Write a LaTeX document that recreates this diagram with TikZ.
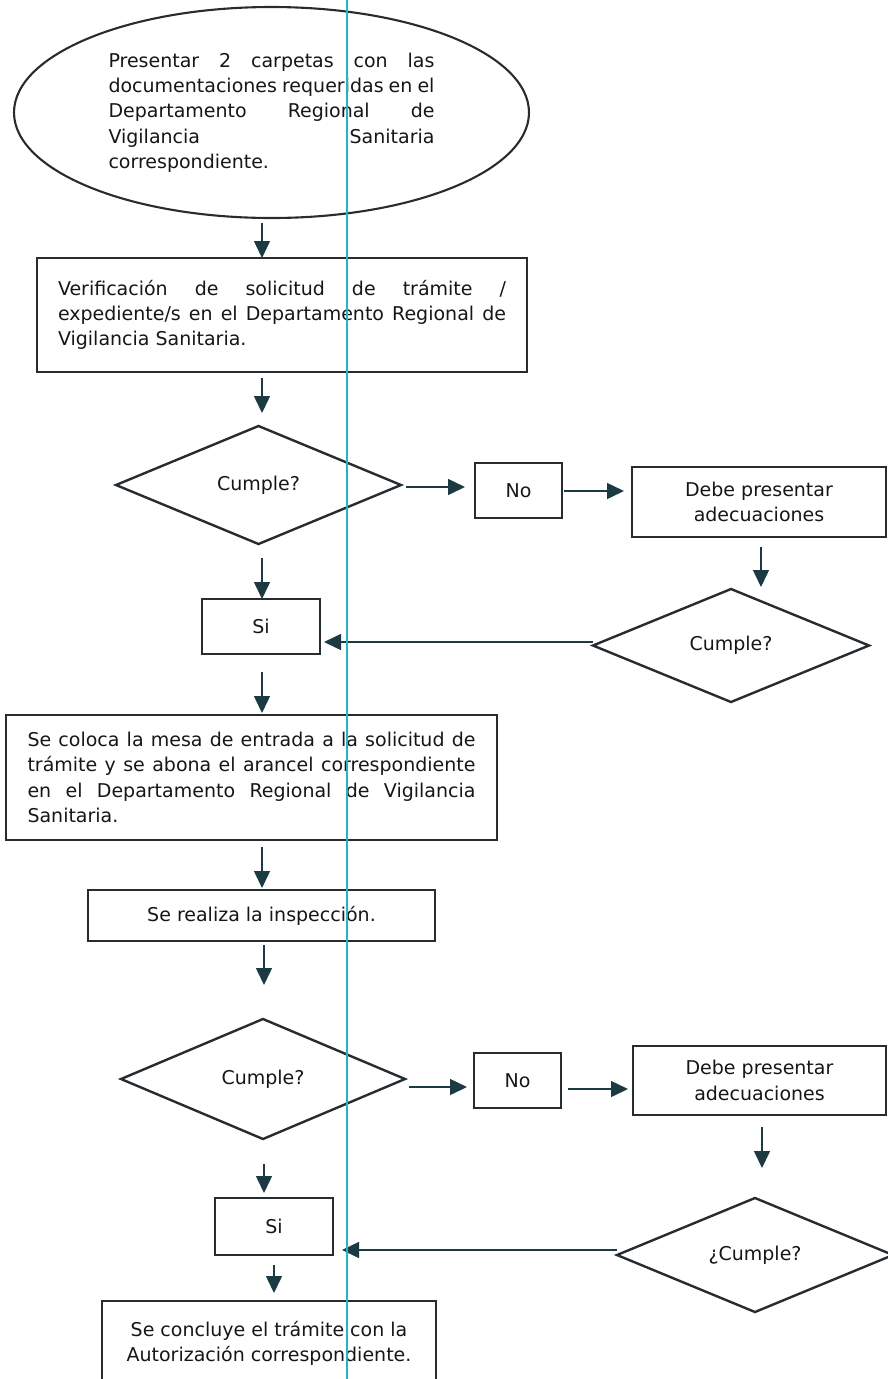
\documentclass[tikz,border=0pt]{standalone}
\usepackage{fontspec}
\setmainfont{DejaVu Sans}
\usetikzlibrary{shapes.geometric,arrows.meta}
\definecolor{ln}{HTML}{262C30}
\definecolor{ac}{HTML}{1C3A42}
\definecolor{tx}{HTML}{161616}
\definecolor{guide}{HTML}{22B5C2}
\newcommand\myjl[2]{\hbox to #1{#2}}
\newcommand\mylast[2]{\hbox to #1{#2\hfil}}
\begin{document}
\begin{tikzpicture}[x=1pt,y=-1pt,
  every node/.style={font=\fontsize{19}{25.3}\selectfont, text=tx, inner sep=0pt, outer sep=0pt},
  box/.style={draw=ln, line width=2.7pt, rectangle},
  dia/.style={draw=ln, line width=2.4pt, diamond},
  oval/.style={draw=ln, line width=2.1pt, ellipse},
  arr/.style={draw=ac, line width=1.5pt, -{Triangle[length=17pt,width=16pt]}},
  guideline/.style={draw=guide, line width=1.3pt}]
\useasboundingbox (0,0) rectangle (888,1379);

% column / row helpers
\coordinate (cA) at (262,0);
\coordinate (cB) at (264,0);
\coordinate (cC) at (761,0);
\coordinate (cD) at (762,0);
\coordinate (cE) at (274,0);
\coordinate (r1) at (0,487);
\coordinate (r2) at (0,491);
\coordinate (r3) at (0,642);
\coordinate (r4) at (0,1087);
\coordinate (r5) at (0,1089);
\coordinate (r6) at (0,1250);

% nodes
\node[oval, minimum width=515pt, minimum height=211pt] (e1) at (271.5,112.5) {\vbox{%
\myjl{326pt}{Presentar 2 carpetas con las}%
\myjl{326pt}{documentaciones requeridas en el}%
\myjl{326pt}{Departamento Regional de}%
\myjl{326pt}{Vigilancia Sanitaria}%
\mylast{326pt}{correspondiente.}}};

\node[box, minimum width=490pt, minimum height=114pt] (b2) at (282,315) {\vbox{%
\myjl{448pt}{Verificación de solicitud de trámite /}%
\myjl{448pt}{expediente/s en el Departamento Regional de}%
\mylast{448pt}{Vigilancia Sanitaria.}}};

\node[dia, minimum width=285pt, minimum height=118pt] (d1) at (258.5,485) {Cumple?};
\node[box, minimum width=87pt, minimum height=55pt] (no1) at (518.5,490.5) {No};
\node[box, minimum width=254pt, minimum height=70pt, align=center] (de1) at (759,502) {Debe presentar\\adecuaciones};
\node[dia, minimum width=276pt, minimum height=113pt] (d2) at (731,645.5) {Cumple?};
\node[box, minimum width=118pt, minimum height=55pt] (si1) at (261,626.5) {Si};

\node[box, minimum width=491pt, minimum height=125pt] (b3) at (251.5,777.5) {\vbox{%
\myjl{448pt}{Se coloca la mesa de entrada a la solicitud de}%
\myjl{448pt}{trámite y se abona el arancel correspondiente}%
\myjl{448pt}{en el Departamento Regional de Vigilancia}%
\mylast{448pt}{Sanitaria.}}};

\node[box, minimum width=347pt, minimum height=51pt] (b4) at (261.5,915.5) {Se realiza la inspección.};

\node[dia, minimum width=284pt, minimum height=120pt] (d3) at (263,1079) {Cumple?};
\node[box, minimum width=87pt, minimum height=55pt] (no2) at (517.5,1080.5) {No};
\node[box, minimum width=253pt, minimum height=69pt, align=center] (de2) at (759.5,1080.5) {Debe presentar\\adecuaciones};
\node[dia, minimum width=276pt, minimum height=114pt] (d4) at (755,1255) {¿Cumple?};
\node[box, minimum width=118pt, minimum height=57pt] (si2) at (274,1226.5) {Si};

\node[box, minimum width=334pt, minimum height=85pt, align=center] (bf) at (269,1343.5) {Se concluye el trámite con la\\Autorización correspondiente.};

% connectors
\draw[arr, shorten <=5pt] (e1.south -| cA) -- (b2.north -| cA);
\draw[arr, shorten <=6pt, shorten >=13pt] (b2.south -| cA) -- (d1.north -| cA);
\draw[arr, shorten <=5pt, shorten >=10pt] (d1.east |- r1) -- (no1.west |- r1);
\draw[arr, shorten <=2pt, shorten >=8pt] (no1.east |- r2) -- (de1.west |- r2);
\draw[arr, shorten <=10pt, shorten >=2pt] (de1.south -| cC) -- (d2.north -| cC);
\draw[arr, shorten >=4pt] (d2.west |- r3) -- (si1.east |- r3);
\draw[arr, shorten <=14pt] (d1.south -| cA) -- (si1.north -| cA);
\draw[arr, shorten <=18pt, shorten >=2pt] (si1.south -| cA) -- (b3.north -| cA);
\draw[arr, shorten <=7pt, shorten >=2pt] (b3.south -| cA) -- (b4.north -| cA);
\draw[arr, shorten <=4pt, shorten >=34pt] (b4.south -| cB) -- (d3.north -| cB);
\draw[arr, shorten <=4pt, shorten >=7pt] (d3.east |- r4) -- (no2.west |- r4);
\draw[arr, shorten <=7pt, shorten >=5pt] (no2.east |- r5) -- (de2.west |- r5);
\draw[arr, shorten <=12pt, shorten >=30pt] (de2.south -| cD) -- (d4.north -| cD);
\draw[arr, shorten >=9pt] (d4.west |- r6) -- (si2.east |- r6);
\draw[arr, shorten <=25pt, shorten >=5pt] (d3.south -| cB) -- (si2.north -| cB);
\draw[arr, shorten <=10pt, shorten >=8pt] (si2.south -| cE) -- (bf.north -| cE);

% vertical guide line
\coordinate (gt) at (347,0);
\coordinate (gb) at (347,1379);
\draw[guideline] (gt) -- (gb);
\end{tikzpicture}
\end{document}
